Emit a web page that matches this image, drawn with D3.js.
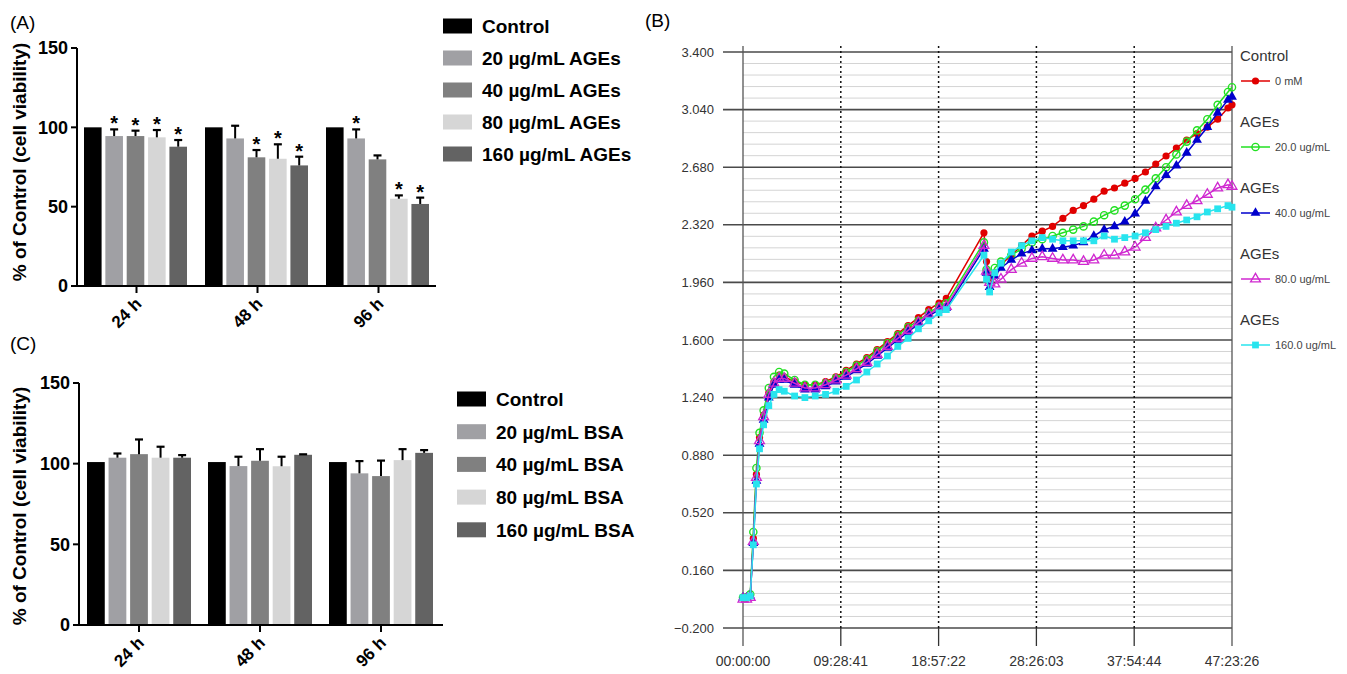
<!DOCTYPE html>
<html><head><meta charset="utf-8">
<script src="https://cdn.jsdelivr.net/npm/d3@7"></script>
<style>
body{margin:0;background:#fff}
svg{display:block}
text{font-family:"Liberation Sans",Arial,Helvetica,sans-serif}
</style>
</head><body>
<svg id="c" width="1347" height="674"></svg>
<script>
// ---------------- DATA ----------------
const groups = ["24 h", "48 h", "96 h"];
const agesSeries = ["Control", "20 µg/mL AGEs", "40 µg/mL AGEs", "80 µg/mL AGEs", "160 µg/mL AGEs"];
const bsaSeries = ["Control", "20 µg/mL BSA", "40 µg/mL BSA", "80 µg/mL BSA", "160 µg/mL BSA"];
const barColors = ["#000000", "#a0a0a4", "#808080", "#d6d6d6", "#636363"];
const barYTicks = [0, 50, 100, 150];

// rows = time groups, columns = series
const agesMean = [[100, 94.5, 94.5, 93.7, 87.8], [100, 93.0, 81.1, 80.2, 76.0], [100, 93.0, 79.8, 55.0, 51.7]];
const agesErr = [[0, 4.2, 3.4, 4.6, 4.2], [0, 8.0, 4.6, 9.1, 5.5], [0, 5.7, 2.5, 2.1, 4.0]];
const agesStar = [[0, 1, 1, 1, 1], [0, 0, 1, 1, 1], [0, 1, 0, 1, 1]];
const bsaMean = [[101, 103.7, 105.9, 103.7, 103.7], [101, 98.5, 101.8, 98.4, 105.5], [101, 94.0, 92.3, 102.2, 106.7]];
const bsaErr = [[0, 2.6, 9.1, 6.8, 1.6], [0, 5.8, 7.2, 5.9, 0.3], [0, 7.6, 9.6, 6.8, 1.7]];

// Panel B: impedance curves (time in hours)
const hours = [0, 0.35, 0.7, 1.0, 1.3, 1.6, 2.0, 2.5, 3.0, 3.5, 4, 5, 6, 7, 8, 9, 10, 11, 12, 13, 14, 15, 16, 17, 18, 19, 19.7,
  23.35, 23.6, 23.9, 24.4, 25, 26, 27, 28, 29, 30, 31, 32, 33, 34, 35, 36, 37, 38, 39, 40, 41, 42, 43, 44, 45, 46, 47, 47.39];
const controlVals = [-0.01, -0.01, 0.00, 0.36, 0.76, 0.99, 1.13, 1.27, 1.34, 1.38, 1.37, 1.34, 1.32, 1.32, 1.34, 1.37, 1.41, 1.45, 1.49, 1.54, 1.59, 1.64, 1.69, 1.74, 1.79, 1.83, 1.86,
  2.27, 2.09, 1.99, 2.02, 2.07, 2.13, 2.19, 2.25, 2.28, 2.31, 2.36, 2.41, 2.44, 2.48, 2.53, 2.55, 2.58, 2.61, 2.65, 2.70, 2.75, 2.80, 2.85, 2.89, 2.93, 2.98, 3.05, 3.07];
const ages20Vals = [-0.01, -0.01, 0.01, 0.40, 0.80, 1.02, 1.16, 1.30, 1.37, 1.40, 1.39, 1.35, 1.32, 1.32, 1.33, 1.36, 1.40, 1.44, 1.48, 1.53, 1.58, 1.63, 1.68, 1.72, 1.77, 1.81, 1.83,
  2.21, 2.04, 1.97, 2.05, 2.09, 2.13, 2.17, 2.21, 2.23, 2.25, 2.27, 2.29, 2.31, 2.34, 2.38, 2.41, 2.44, 2.48, 2.54, 2.61, 2.68, 2.76, 2.84, 2.91, 2.98, 3.07, 3.15, 3.18];
const ages40Vals = [-0.01, -0.01, 0.00, 0.33, 0.72, 0.95, 1.10, 1.24, 1.32, 1.35, 1.35, 1.32, 1.29, 1.29, 1.31, 1.34, 1.37, 1.41, 1.45, 1.50, 1.55, 1.60, 1.65, 1.70, 1.75, 1.79, 1.80,
  2.17, 2.02, 1.93, 2.00, 2.05, 2.10, 2.14, 2.16, 2.17, 2.17, 2.18, 2.19, 2.21, 2.25, 2.29, 2.31, 2.34, 2.39, 2.47, 2.56, 2.63, 2.69, 2.77, 2.85, 2.93, 3.02, 3.10, 3.12];
const ages80Vals = [-0.02, -0.02, -0.01, 0.34, 0.74, 0.97, 1.12, 1.26, 1.33, 1.36, 1.36, 1.33, 1.30, 1.30, 1.32, 1.35, 1.38, 1.42, 1.46, 1.51, 1.56, 1.61, 1.66, 1.71, 1.76, 1.80, 1.81,
  2.19, 2.03, 1.96, 1.95, 1.98, 2.04, 2.08, 2.11, 2.12, 2.11, 2.10, 2.10, 2.09, 2.10, 2.13, 2.13, 2.15, 2.18, 2.24, 2.30, 2.35, 2.40, 2.44, 2.47, 2.51, 2.55, 2.57, 2.56];
const ages160Vals = [-0.01, -0.01, 0.00, 0.32, 0.70, 0.92, 1.07, 1.19, 1.26, 1.29, 1.28, 1.25, 1.24, 1.25, 1.26, 1.28, 1.31, 1.35, 1.40, 1.45, 1.50, 1.56, 1.61, 1.67, 1.72, 1.77, 1.79,
  2.13, 1.98, 1.90, 2.02, 2.08, 2.15, 2.19, 2.22, 2.24, 2.23, 2.22, 2.22, 2.22, 2.22, 2.25, 2.23, 2.24, 2.25, 2.27, 2.29, 2.31, 2.33, 2.35, 2.37, 2.40, 2.42, 2.44, 2.43];
const curveHeads = ["Control", "AGEs", "AGEs", "AGEs", "AGEs"];
const curveNames = ["0 mM", "20.0 ug/mL", "40.0 ug/mL", "80.0 ug/mL", "160.0 ug/mL"];
const curveColors = ["#e00000", "#22e022", "#0000cc", "#d028d0", "#28e4ee"];
const curveMarkers = ["circleFill", "circleOpen", "triFill", "triOpen", "square"];
const bYTicks = [-0.2, 0.16, 0.52, 0.88, 1.24, 1.6, 1.96, 2.32, 2.68, 3.04, 3.4];
const bXTickLabels = ["00:00:00", "09:28:41", "18:57:22", "28:26:03", "37:54:44", "47:23:26"];
const bXMaxHours = 47.3906;

// ---------------- DRAW ----------------
const svg = d3.select("#c");

function barPanel(cfg) {
  const g = svg.append("g");
  const y = d3.scaleLinear().domain([0, 150]).range([cfg.y0, cfg.y150]);
  const x0 = d3.scaleBand().domain(groups).range(cfg.xRange);
  const x1 = d3.scaleBand().domain(cfg.series).range(cfg.inner).paddingInner(0.176);

  groups.forEach((gr, gi) => {
    cfg.series.forEach((s, si) => {
      const v = cfg.mean[gi][si];
      const bx = x0(gr) + x1(s);
      const cx = bx + x1.bandwidth() / 2;
      g.append("rect").attr("x", bx).attr("y", y(v)).attr("width", x1.bandwidth())
        .attr("height", y(0) - y(v)).attr("fill", barColors[si]);
      const e = cfg.err[gi][si];
      if (e > 0) {
        const cy = y(v + e);
        g.append("line").attr("x1", cx).attr("x2", cx).attr("y1", y(v)).attr("y2", cy)
          .attr("stroke", "#000").attr("stroke-width", 2);
        g.append("line").attr("x1", cx - 4).attr("x2", cx + 4).attr("y1", cy).attr("y2", cy)
          .attr("stroke", "#000").attr("stroke-width", 2.2);
        if (cfg.star && cfg.star[gi][si]) {
          g.append("text").attr("x", cx).attr("y", cy + 1).attr("text-anchor", "middle")
            .attr("font-size", 20).attr("font-weight", "bold").text("*");
        }
      }
    });
  });

  // axes
  const axisX = cfg.axisX;
  g.append("line").attr("x1", axisX).attr("x2", axisX).attr("y1", y(150)).attr("y2", y(0))
    .attr("stroke", "#000").attr("stroke-width", 2);
  g.append("line").attr("x1", axisX - 6).attr("x2", cfg.xEnd).attr("y1", y(0)).attr("y2", y(0))
    .attr("stroke", "#000").attr("stroke-width", 2);
  barYTicks.forEach(t => {
    g.append("line").attr("x1", axisX - 6).attr("x2", axisX).attr("y1", y(t)).attr("y2", y(t))
      .attr("stroke", "#000").attr("stroke-width", 2);
    g.append("text").attr("x", axisX - 9).attr("y", y(t)).attr("dy", "0.36em")
      .attr("text-anchor", "end").attr("font-size", 18).attr("font-weight", "bold").text(t);
  });
  groups.forEach(gr => {
    const cx = x0(gr) + x0.bandwidth() / 2;
    g.append("line").attr("x1", cx).attr("x2", cx).attr("y1", y(0)).attr("y2", y(0) + 7)
      .attr("stroke", "#000").attr("stroke-width", 2);
    g.append("text").attr("transform", `translate(${cx + 6},${y(0) + 19}) rotate(-45)`)
      .attr("text-anchor", "end").attr("font-size", 17).attr("font-weight", "bold").text(gr);
  });
  g.append("text").attr("transform", `translate(26,${cfg.titleY}) rotate(-90)`)
    .attr("text-anchor", "middle").attr("font-size", 19).attr("font-weight", "bold")
    .text("% of Control (cell viability)");
  g.append("text").attr("x", 10).attr("y", cfg.labelY).attr("font-size", 19).text(cfg.label);

  // legend
  cfg.series.forEach((s, si) => {
    const cy = cfg.legY + si * cfg.legStep;
    g.append("rect").attr("x", cfg.legX).attr("y", cy - 7.5).attr("width", 29).attr("height", 15)
      .attr("fill", barColors[si]);
    g.append("text").attr("x", cfg.legX + 39).attr("y", cy).attr("dy", "0.36em")
      .attr("font-size", 19).attr("font-weight", "bold").text(s);
  });
}

barPanel({
  series: agesSeries, mean: agesMean, err: agesErr, star: agesStar,
  y0: 286, y150: 48, xRange: [76, 439], inner: [8, 111], axisX: 77, xEnd: 436,
  titleY: 162, label: "(A)", labelY: 29, legX: 443, legY: 26, legStep: 32
});
barPanel({
  series: bsaSeries, mean: bsaMean, err: bsaErr, star: null,
  y0: 625, y150: 383, xRange: [78.5, 441.5], inner: [8.5, 112.5], axisX: 79, xEnd: 443,
  titleY: 506, label: "(C)", labelY: 350, legX: 457, legY: 399, legStep: 32.7
});

// -------- Panel B --------
const gb = svg.append("g");
const bx = d3.scaleLinear().domain([0, bXMaxHours]).range([743, 1232]);
const by = d3.scaleLinear().domain([-0.2, 3.4]).range([628, 52]);
const yTop = 46, yBot = 646;

// minor grid
for (let i = 0; i < bYTicks.length - 1; i++) {
  const a = bYTicks[i], b = bYTicks[i + 1];
  for (let k = 1; k < 5; k++) {
    const v = a + (b - a) * k / 5;
    gb.append("line").attr("x1", 743).attr("x2", 1232).attr("y1", by(v)).attr("y2", by(v))
      .attr("stroke", "#d4d4d4").attr("stroke-width", 1);
  }
}
// major grid + y labels
bYTicks.forEach(t => {
  gb.append("line").attr("x1", 723).attr("x2", 1232).attr("y1", by(t)).attr("y2", by(t))
    .attr("stroke", "#4a4a4a").attr("stroke-width", 1.6);
  gb.append("text").attr("x", 714).attr("y", by(t)).attr("dy", "0.35em").attr("text-anchor", "end")
    .attr("font-size", 13).attr("fill", "#333").text(d3.format(".3f")(t));
});
// x ticks / dotted lines
bXTickLabels.forEach((lab, i) => {
  const xv = bx(bXMaxHours * i / 5);
  if (i > 0 && i < 5) {
    gb.append("line").attr("x1", xv).attr("x2", xv).attr("y1", yTop).attr("y2", by(-0.2))
      .attr("stroke", "#111").attr("stroke-width", 1.5).attr("stroke-dasharray", "2,3");
    gb.append("line").attr("x1", xv).attr("x2", xv).attr("y1", by(-0.2)).attr("y2", yBot)
      .attr("stroke", "#333").attr("stroke-width", 1.3);
  } else {
    gb.append("line").attr("x1", xv).attr("x2", xv).attr("y1", yTop).attr("y2", yBot)
      .attr("stroke", "#555").attr("stroke-width", 1.3);
  }
  gb.append("text").attr("x", xv).attr("y", 666).attr("text-anchor", "middle")
    .attr("font-size", 14).attr("fill", "#333").text(lab);
});
gb.append("text").attr("x", 645).attr("y", 27).attr("font-size", 19).text("(B)");

const seriesVals = [controlVals, ages20Vals, ages40Vals, ages80Vals, ages160Vals];
function drawMarker(g, type, color, x, y) {
  if (type === "circleFill") {
    g.append("circle").attr("cx", x).attr("cy", y).attr("r", 3.6).attr("fill", color);
  } else if (type === "circleOpen") {
    g.append("circle").attr("cx", x).attr("cy", y).attr("r", 3.6).attr("fill", "none")
      .attr("stroke", color).attr("stroke-width", 1.4);
  } else if (type === "triFill") {
    g.append("path").attr("transform", `translate(${x},${y})`)
      .attr("d", d3.symbol(d3.symbolTriangle, 42)()).attr("fill", color);
  } else if (type === "triOpen") {
    g.append("path").attr("transform", `translate(${x},${y})`)
      .attr("d", d3.symbol(d3.symbolTriangle, 42)()).attr("fill", "none")
      .attr("stroke", color).attr("stroke-width", 1.3);
  } else {
    g.append("path").attr("transform", `translate(${x},${y})`)
      .attr("d", d3.symbol(d3.symbolSquare, 46)()).attr("fill", color);
  }
}
const line = d3.line().x(d => bx(d[0])).y(d => by(d[1]));
seriesVals.forEach((vals, si) => {
  const pts = hours.map((h, i) => [h, vals[i]]);
  const g = gb.append("g");
  g.append("path").attr("d", line(pts)).attr("fill", "none").attr("stroke", curveColors[si]).attr("stroke-width", 1.5);
  pts.forEach(p => drawMarker(g, curveMarkers[si], curveColors[si], bx(p[0]), by(p[1])));
});

// legend B
const legTops = [56, 122, 188, 254, 320];
curveNames.forEach((n, i) => {
  const y0 = legTops[i];
  gb.append("text").attr("x", 1240).attr("y", y0).attr("dy", "0.35em").attr("font-size", 15)
    .attr("fill", "#333").text(curveHeads[i]);
  const ly = y0 + 25;
  gb.append("line").attr("x1", 1241).attr("x2", 1270).attr("y1", ly).attr("y2", ly)
    .attr("stroke", curveColors[i]).attr("stroke-width", 1.5);
  drawMarker(gb, curveMarkers[i], curveColors[i], 1255.5, ly);
  gb.append("text").attr("x", 1275).attr("y", ly).attr("dy", "0.35em").attr("font-size", 11)
    .attr("fill", "#444").text(n);
});
</script>
</body></html>
